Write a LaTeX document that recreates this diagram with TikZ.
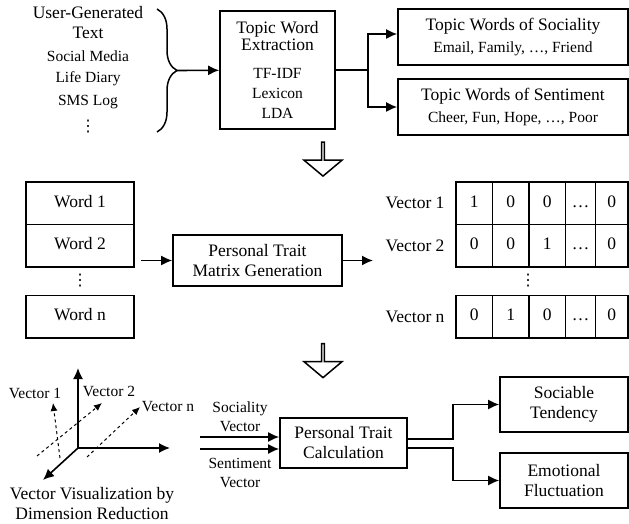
\documentclass[tikz,border=0pt]{standalone}
\usepackage{fontspec}
\setmainfont{Liberation Serif}
\newfontfamily\dotsfont{DejaVu Sans}
\usepackage{tikz}
\usetikzlibrary{arrows.meta, positioning, shapes.arrows, decorations.pathreplacing}

\begin{document}
\begin{tikzpicture}[x=1pt, y=-1pt,
    big/.style={font=\fontsize{17.5}{20}\selectfont},
    small/.style={font=\fontsize{15.5}{19}\selectfont},
    dots/.style={font=\dotsfont\fontsize{16}{20}\selectfont, inner sep=0pt},
    box/.style={rectangle, draw, line width=1.6pt, align=center, inner sep=2pt, big},
    cell/.style={rectangle, draw, line width=1.6pt, outer sep=0pt, minimum height=42.5pt, text height=12pt, text depth=4pt, big},
    flow/.style={-{Latex[length=11pt, width=10pt]}, line width=1.6pt},
    vec/.style={-{Latex[length=8pt, width=7pt]}, dashed, line width=1pt},
    hollow/.style={single arrow, draw, line width=1.5pt, shape border rotate=270, minimum height=34pt, minimum width=38pt, single arrow head extend=9pt, single arrow tip angle=100, inner sep=0pt}]
    \useasboundingbox (0,0) rectangle (629,524);

    % stage 1: topic words
    \node[big, align=center] (ugt) at (88,23) {User-Generated\\Text};
    \node[small] (sm) at (88,56) {Social Media};
    \node[small] (ld) at (88,79) {Life Diary};
    \node[small] (sms) at (88,102) {SMS Log};
    \node[dots] (udots) at (88,127) {⋮};
    \coordinate (brtop) at (157,9);
    \coordinate (brbot) at (157,132);
    \coordinate (brtip) at (177,70.5);
    \draw[decorate, decoration={brace, amplitude=20pt}, line width=1.5pt] (brtop) -- (brbot);

    \node[box, minimum width=115pt, minimum height=118pt] (twe) at (277.5,70) {Topic Word\\[-3pt]Extraction\\[8pt]{\fontsize{15.5}{19}\selectfont TF-IDF}\\{\fontsize{15.5}{19}\selectfont Lexicon}\\{\fontsize{15.5}{19}\selectfont LDA}};
    \node[box, minimum width=230pt, minimum height=56pt] (soc) at (513,37) {Topic Words of Sociality\\[2pt]{\fontsize{15.5}{19}\selectfont Email, Family, …, Friend}};
    \node[box, minimum width=230pt, minimum height=56pt] (sen) at (513,107) {Topic Words of Sentiment\\[2pt]{\fontsize{15.5}{19}\selectfont Cheer, Fun, Hope, …, Poor}};

    \draw[flow] (brtip) -- (twe);
    \draw[flow] (twe.east) -- ++(32,0) |- ([yshift=3pt]soc.west);
    \draw[flow] (twe.east) -- ++(32,0) |- (sen.west);

    \node[hollow] (down1) at (323,158.5) {};

    % stage 2: word vectors
    \node[cell, minimum width=108pt, anchor=north west] (w1) at (26,182) {Word 1};
    \node[cell, minimum width=108pt, below=0pt of w1] (w2) {Word 2};
    \node[cell, minimum width=108pt, below=28.5pt of w2] (wn) {Word n};
    \node[dots] (wdots) at (80,281) {⋮};

    \node[box, minimum width=169pt, minimum height=51pt] (ptmg) at (257.5,260.5) {Personal Trait\\Matrix Generation};
    \coordinate (wordsout) at (141,260.5);
    \coordinate (matin) at (373,260.5);
    \draw[flow] (wordsout) -- (ptmg);
    \draw[flow] (ptmg) -- (matin);

    \node[cell, minimum width=36.5pt, anchor=north west] (r1c1) at (456,182) {1};
    \node[cell, minimum width=36.5pt, right=0pt of r1c1] (r1c2) {0};
    \node[cell, minimum width=36.5pt, right=0pt of r1c2] (r1c3) {0};
    \node[cell, minimum width=30pt, right=0pt of r1c3] (r1c4) {…};
    \node[cell, minimum width=32.5pt, right=0pt of r1c4] (r1c5) {0};

    \node[cell, minimum width=36.5pt, below=0pt of r1c1] (r2c1) {0};
    \node[cell, minimum width=36.5pt, right=0pt of r2c1] (r2c2) {0};
    \node[cell, minimum width=36.5pt, right=0pt of r2c2] (r2c3) {1};
    \node[cell, minimum width=30pt, right=0pt of r2c3] (r2c4) {…};
    \node[cell, minimum width=32.5pt, right=0pt of r2c4] (r2c5) {0};

    \node[cell, minimum width=36.5pt, below=28.5pt of r2c1] (rnc1) {0};
    \node[cell, minimum width=36.5pt, right=0pt of rnc1] (rnc2) {1};
    \node[cell, minimum width=36.5pt, right=0pt of rnc2] (rnc3) {0};
    \node[cell, minimum width=30pt, right=0pt of rnc3] (rnc4) {…};
    \node[cell, minimum width=32.5pt, right=0pt of rnc4] (rnc5) {0};

    \node[dots] (mdots) at (528,281) {⋮};
    \node[big, left=8pt of r1c1] (vl1) {Vector 1};
    \node[big, left=8pt of r2c1] (vl2) {Vector 2};
    \node[big, left=8pt of rnc1] (vln) {Vector n};

    \node[hollow] (down2) at (323,360) {};

    % stage 3: personal trait
    \coordinate (org) at (78,448);
    \coordinate (axup) at (78,368);
    \coordinate (axright) at (170,448);
    \coordinate (axdiag) at (43,480);
    \draw[flow] (org) -- (axup);
    \draw[flow] (org) -- (axright);
    \draw[flow] (org) -- (axdiag);
    \coordinate (v1s) at (60,458);
    \coordinate (v1e) at (53,403);
    \coordinate (v2s) at (37,456);
    \coordinate (v2e) at (102,403);
    \coordinate (vns) at (87,457);
    \coordinate (vne) at (140,407);
    \draw[vec] (v1s) -- (v1e);
    \draw[vec] (v2s) -- (v2e);
    \draw[vec] (vns) -- (vne);
    \node[small] (pv1) at (35,393) {Vector 1};
    \node[small] (pv2) at (109,391) {Vector 2};
    \node[small] (pvn) at (168,407) {Vector n};
    \node[big, align=center] (vis) at (92,503.5) {Vector Visualization by\\Dimension Reduction};

    \node[box, minimum width=127pt, minimum height=50pt] (ptc) at (343.5,443) {Personal Trait\\Calculation};
    \node[small, align=center] (socvl) at (240,416.5) {Sociality\\Vector};
    \node[small, align=center] (senvl) at (240,472.5) {Sentiment\\Vector};
    \coordinate (socin) at (200,437);
    \coordinate (senin) at (200,449);
    \draw[flow] (socin) -- (socin -| ptc.west);
    \draw[flow] (senin) -- (senin -| ptc.west);

    \node[box, minimum width=128pt, minimum height=55pt] (st) at (564,404.5) {Sociable\\Tendency};
    \node[box, minimum width=128pt, minimum height=55pt] (ef) at (564,480.5) {Emotional\\Fluctuation};
    \draw[flow] ([yshift=4pt]ptc.east) -- ++(45,0) |- (st.west);
    \draw[flow] ([yshift=-5pt]ptc.east) -- ++(45,0) |- (ef.west);
\end{tikzpicture}
\end{document}
